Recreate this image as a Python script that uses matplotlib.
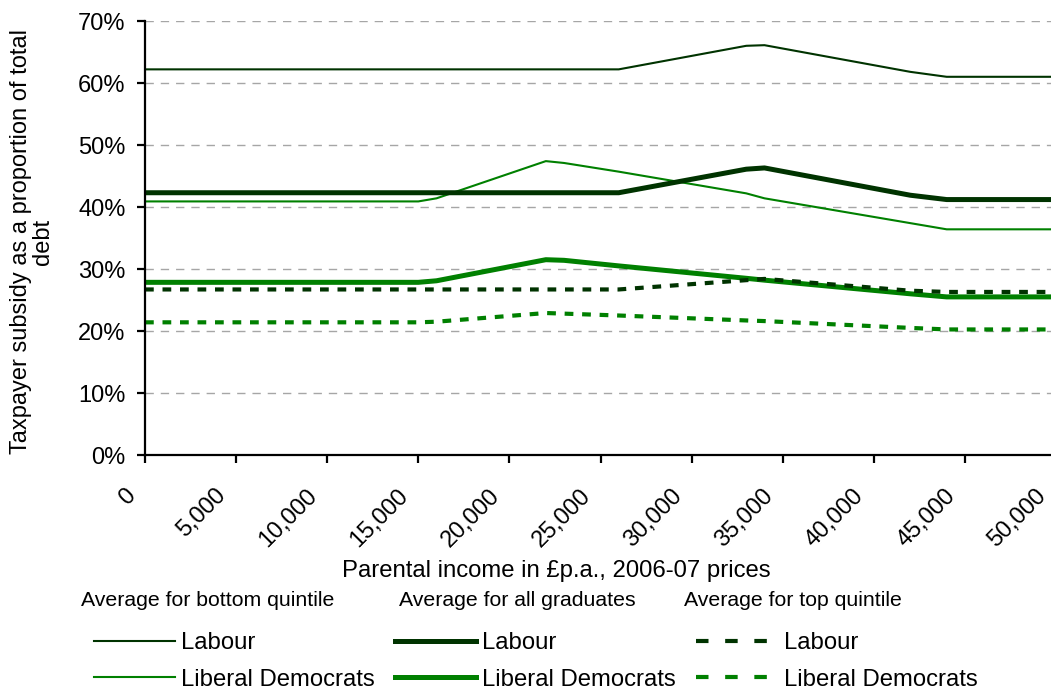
import matplotlib
matplotlib.use("Agg")
import matplotlib.pyplot as plt
from matplotlib.ticker import FuncFormatter
from matplotlib.transforms import ScaledTranslation

plt.rcParams['font.family'] = ['Liberation Sans', 'DejaVu Sans']

# Parental income grid (£ p.a.)
income = [0, 15000, 16000, 22000, 23000, 26000, 33000, 34000, 42000, 44000, 50000]

# Taxpayer subsidy as % of total debt
labour_bottom = [62.2, 62.2, 62.2, 62.2, 62.2, 62.2, 66.0, 66.1, 61.8, 61.0, 61.0]
libdem_bottom = [40.9, 40.9, 41.4, 47.4, 47.1, 45.7, 42.2, 41.4, 37.4, 36.4, 36.4]
labour_all    = [42.3, 42.3, 42.3, 42.3, 42.3, 42.3, 46.1, 46.3, 41.9, 41.2, 41.2]
libdem_all    = [27.85, 27.85, 28.1, 31.5, 31.4, 30.5, 28.5, 28.2, 26.0, 25.5, 25.5]
labour_top    = [26.7, 26.7, 26.7, 26.7, 26.7, 26.7, 28.2, 28.4, 26.5, 26.3, 26.3]
libdem_top    = [21.4, 21.4, 21.5, 22.9, 22.8, 22.5, 21.7, 21.6, 20.5, 20.25, 20.25]

party_labels = ["Labour", "Liberal Democrats"]
group_headers = ["Average for bottom quintile", "Average for all graduates",
                 "Average for top quintile"]
x_ticks = list(range(0, 50001, 5000))
y_ticks = list(range(0, 71, 10))

LAB = '#003300'
LD = '#008000'

W, H = 1051, 689
fig = plt.figure(figsize=(W / 100, H / 100), dpi=100)
ax = fig.add_axes([145 / W, 1 - 455 / H, (1056 - 145) / W, (455 - 21) / H])

h1, = ax.plot(income, labour_bottom, color=LAB, lw=1.5, label=party_labels[0])
h2, = ax.plot(income, libdem_bottom, color=LD, lw=1.5, label=party_labels[1])
h3, = ax.plot(income, labour_all, color=LAB, lw=3.6, label=party_labels[0])
h4, = ax.plot(income, libdem_all, color=LD, lw=3.6, label=party_labels[1])
h5, = ax.plot(income, labour_top, color=LAB, lw=3.0, dashes=(2.1, 2.1), label=party_labels[0])
h6, = ax.plot(income, libdem_top, color=LD, lw=3.0, dashes=(2.1, 2.1), label=party_labels[1])

ax.set_xlim(0, 50000)
ax.set_ylim(0, 70)
ax.set_xticks(x_ticks)
ax.set_yticks(y_ticks)
ax.xaxis.set_major_formatter(FuncFormatter(lambda v, p: f"{int(v):,}"))
ax.yaxis.set_major_formatter(FuncFormatter(lambda v, p: f"{int(v)}%"))

ax.yaxis.grid(True, color='#A6A6A6', lw=1.0, linestyle=(0, (6, 5)))
ax.set_axisbelow(True)
for s in ['top', 'right']:
    ax.spines[s].set_visible(False)
for s in ['left', 'bottom']:
    ax.spines[s].set_linewidth(1.6)
    ax.spines[s].set_color('black')

ax.tick_params(axis='both', direction='out', length=6, width=1.6, labelsize=17, colors='black')
ax.tick_params(axis='y', pad=8)
ax.tick_params(axis='x', pad=8)
offset = ScaledTranslation(-21 / 100, -10 / 100, fig.dpi_scale_trans)
for lbl in ax.get_xticklabels():
    lbl.set_rotation(45)
    lbl.set_ha('right')
    lbl.set_va('top')
    lbl.set_rotation_mode('anchor')
    lbl.set_transform(lbl.get_transform() + offset)

fig.text(32 / W, 1 - 242 / H, "Taxpayer subsidy as a proportion of total\ndebt",
         rotation=90, ha='center', va='center', multialignment='center',
         fontsize=17, linespacing=1.05)
fig.text(556 / W, 1 - 571 / H, "Parental income in £p.a., 2006-07 prices",
         ha='center', va='center', fontsize=17.2)

for x, t in zip([81, 399, 684], group_headers):
    fig.text(x / W, 1 - 601 / H, t, ha='left', va='center', fontsize=15.3)

leg = fig.legend(handles=[h1, h2, h3, h4, h5, h6], ncol=3, loc='upper left',
                 bbox_to_anchor=(94 / W, 1 - 632 / H), frameon=False,
                 fontsize=17.2, handlelength=3.4, handletextpad=0.25,
                 columnspacing=0.85, labelspacing=0.62, borderpad=0, borderaxespad=0)
for hl in leg.legend_handles[4:]:
    hl.set_dashes((3, 4))

fig.savefig("out.png", dpi=100)
